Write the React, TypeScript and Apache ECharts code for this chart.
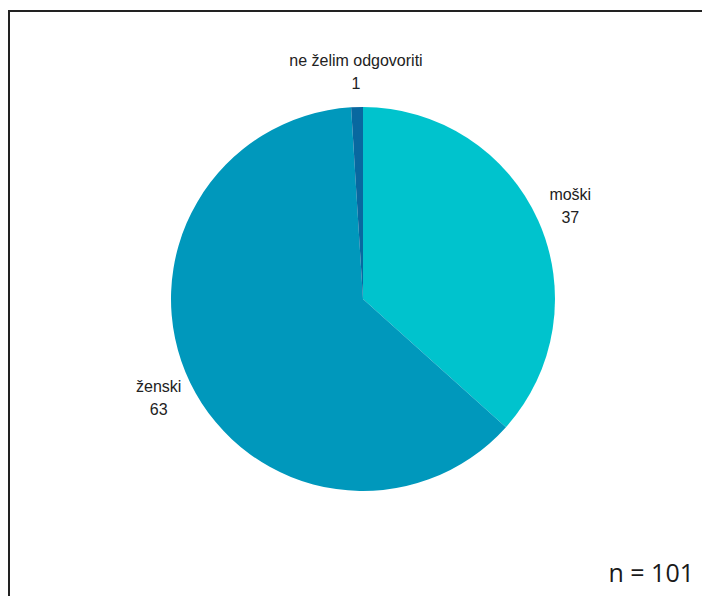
import React, { useEffect, useRef } from "react";
import * as echarts from "echarts";

const categories = ["moški", "ženski", "ne želim odgovoriti"];
const values = [37, 63, 1];
const colors = ["#00c3cd", "#0098bc", "#0868a0"];
const totalLabel = "n = 101";

export default function App() {
  const ref = useRef<HTMLDivElement>(null);
  useEffect(() => {
    if (!ref.current) return;
    const chart = echarts.init(ref.current, null, { renderer: "svg" });
    const data = categories.map((name, i) => ({
      name,
      value: values[i],
      itemStyle: { color: colors[i] },
    }));
    chart.setOption({
      animation: false,
      backgroundColor: "#ffffff",
      series: [
        {
          type: "pie",
          center: [363, 299],
          radius: [0, 192],
          startAngle: 90,
          clockwise: true,
          avoidLabelOverlap: false,
          silent: true,
          label: { show: false },
          labelLine: { show: false },
          itemStyle: { borderWidth: 0 },
          data,
        },
        {
          type: "pie",
          center: [363, 299],
          radius: [198, 250],
          startAngle: 90,
          clockwise: true,
          avoidLabelOverlap: false,
          silent: true,
          itemStyle: { color: "transparent", borderWidth: 0 },
          label: {
            show: true,
            position: "inside",
            rotate: 0,
            formatter: "{b}\n{c}",
            fontFamily: "Liberation Sans, Arial, sans-serif",
            fontSize: 16,
            lineHeight: 23,
            color: "#222222",
            align: "center",
          },
          labelLine: { show: false },
          emphasis: { disabled: true },
          data: categories.map((name, i) => ({ name, value: values[i] })),
        },
      ],
      graphic: [
        {
          type: "rect",
          shape: { x: 9, y: 11, width: 800, height: 700 },
          style: { fill: "none", stroke: "#222222", lineWidth: 2 },
          silent: true,
        },
        {
          type: "text",
          x: 694,
          y: 584,
          style: {
            text: totalLabel,
            fontFamily: "Open Sans, Noto Sans, sans-serif",
            fontSize: 25,
            fill: "#1a1a1a",
            align: "right",
            verticalAlign: "bottom",
          },
          silent: true,
        },
      ],
    });
    return () => chart.dispose();
  }, []);
  return (
    <div
      ref={ref}
      style={{ position: "fixed", left: 0, top: 0, width: 702, height: 596 }}
    />
  );
}
